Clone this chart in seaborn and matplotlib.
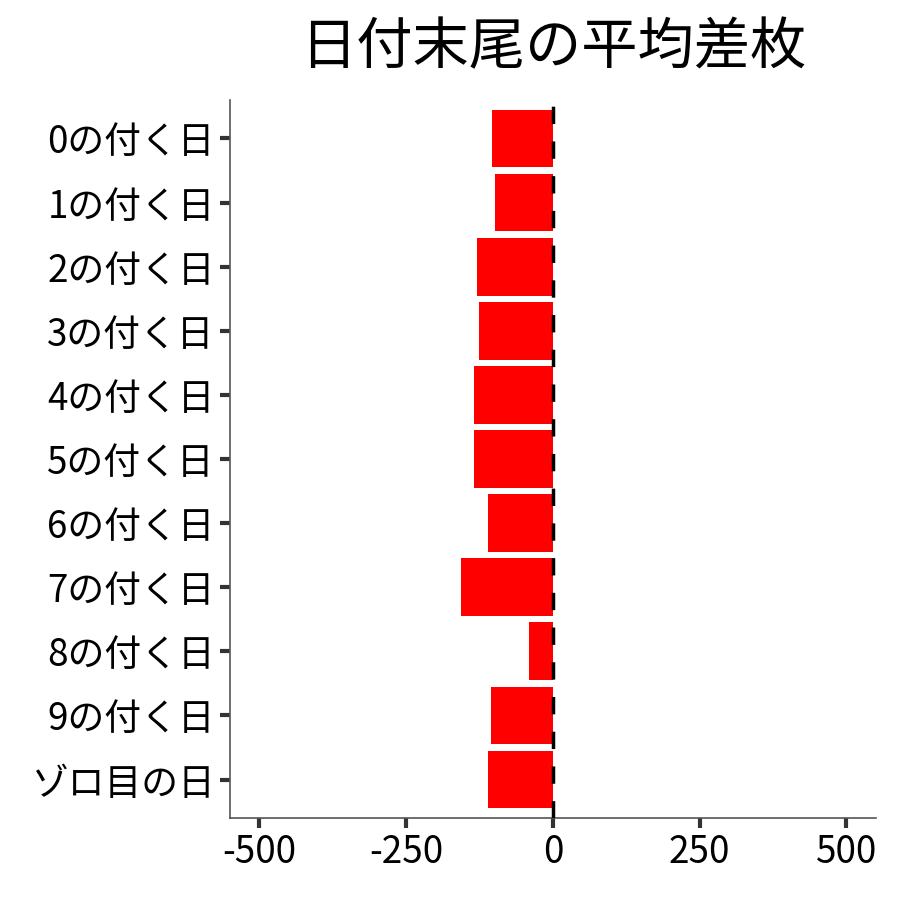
import numpy as np
import pandas as pd
import matplotlib
matplotlib.use("Agg")
import matplotlib.pyplot as plt
import seaborn as sns

# Data
categories = ["0の付く日", "1の付く日", "2の付く日", "3の付く日", "4の付く日",
              "5の付く日", "6の付く日", "7の付く日", "8の付く日", "9の付く日",
              "ゾロ目の日"]
avg_diff = [-104, -99, -129, -125, -134, -134, -111, -156, -40, -106, -111]
xticks = [-500, -250, 0, 250, 500]

df = pd.DataFrame({"label": categories, "value": avg_diff})

sns.set_style("white")
plt.rcParams['font.family'] = ['Noto Sans CJK JP', 'DejaVu Sans']
plt.rcParams['text.color'] = 'black'

fig = plt.figure(figsize=(9, 9), dpi=100)
ax = fig.add_axes([0.2556, 0.0911, 0.7174, 0.7978])

sns.barplot(data=df, x="value", y="label", order=categories, color="#ff0000",
            saturation=1, width=0.9, orient="h", ax=ax)
for p in ax.patches:
    p.set_edgecolor("none")

ax.axvline(0, color="black", linestyle=(0, (5, 5)), linewidth=2.5, zorder=5)

ax.set_xlim(-550, 550)
ax.set_ylim(len(categories) - 0.4, -0.6)
ax.set_xticks(xticks)
ax.set_xticklabels([str(t) for t in xticks])
ax.set_xlabel("")
ax.set_ylabel("")
ax.set_title("日付末尾の平均差枚", fontsize=40.5, pad=26, color="black")

for side in ["top", "right"]:
    ax.spines[side].set_visible(False)
for side in ["left", "bottom"]:
    ax.spines[side].set_color("#555555")
    ax.spines[side].set_linewidth(1.2)
ax.tick_params(axis="both", labelsize=26.5, labelcolor="black", length=7, width=3,
               direction="out", pad=4, color="#333333")
ax.tick_params(left=True, bottom=True)

fig.savefig("out.png", dpi=100)
